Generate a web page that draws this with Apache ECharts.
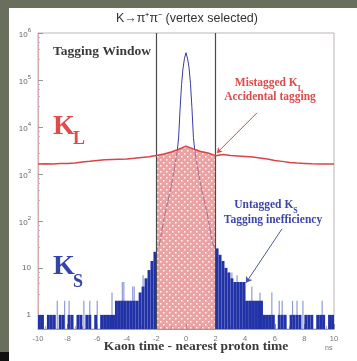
<!DOCTYPE html>
<html>
<head>
<meta charset="utf-8">
<script src="https://cdn.jsdelivr.net/npm/echarts@6/dist/echarts.min.js"></script>
<style>
    html, body { margin: 0; padding: 0; width: 357px; height: 361px; overflow: hidden; background: #68705d; }
    #chart { position: absolute; left: 9px; top: 8px; width: 348px; height: 353px; background: #fff; }
    #corner { position: absolute; left: 0; top: 352px; width: 9px; height: 9px; background: #111; }
</style>
</head>
<body>
<div id="chart"></div>
<div id="corner"></div>
<script>
// histogram bins of 0.2 ns
var BIN = 0.2;
var Y_MIN = 0.5, Y_MAX = 1e6;

// K_S counts outside the tagging window (bins from -10 to -2, and 2 to 10)
var KS_LEFT = [1, 1, 0, 1, 1, 1, 0, 1, 1, 0,
               1, 1, 0, 1, 1, 0, 1, 1, 0, 1,
               0, 1, 1, 1, 1, 1, 2, 2, 2, 2,
               2, 2, 2, 2, 3, 4, 6, 9, 14, 22];
var KS_RIGHT = [26, 19, 14, 10, 8, 6, 5, 5, 5, 5,
                2, 2, 2, 2, 2, 2, 1, 1, 1, 1,
                0, 1, 1, 1, 0, 1, 1, 1, 1, 0,
                1, 1, 1, 0, 1, 1, 1, 0, 1, 1];

// single-bin spikes (lighter blue)
var SPIKE_X = [-8.7, -8.2, -7.9, -6.9, -6.5, -6.0, -5.0, -4.3, -4.2, -3.6, -3.5, -2.9,
               3.1, 3.45, 4.0, 4.45, 5.0, 5.8, 6.3, 6.5, 7.2, 7.5, 7.9, 9.2];
var SPIKE_Y = [2, 2, 2, 2, 2, 2, 3, 5, 5, 4, 4, 7,
               8, 7, 5, 4, 3, 3, 2, 2, 2, 2, 2, 2];

// K_S peak inside the window (outline)
var PEAK_X = [-2.0, -1.8, -1.6, -1.4, -1.2, -1.0, -0.8, -0.6, -0.5, -0.4, -0.3, -0.2, -0.1, 0,
              0.1, 0.2, 0.3, 0.4, 0.5, 0.6, 0.8, 1.0, 1.2, 1.4, 1.6, 1.8, 2.0];
var PEAK_Y = [24, 31, 70, 150, 280, 540, 1200, 2900, 5800, 24000, 80000, 180000, 290000, 380000,
              290000, 190000, 85000, 26000, 6000, 3000, 1250, 560, 300, 160, 75, 33, 26];

// K_L (accidental) level
var KL_X = [-10, -9.5, -9, -8.5, -8, -7.5, -7, -6.5, -6, -5.5, -5, -4.5, -4, -3.5, -3, -2.5, -2,
            -1.5, -1, -0.5, 0, 0.5, 1, 1.5, 2, 2.5, 3, 3.5, 4, 4.5, 5, 5.5, 6, 6.5, 7, 7.5, 8, 8.5, 9, 9.5, 10];
var KL_Y = [1620, 1640, 1630, 1660, 1670, 1700, 1790, 1860, 1940, 2000, 2030, 2060, 2090, 2150, 2240, 2330, 2470,
            2650, 2930, 3350, 3900, 3400, 3000, 2780, 2450, 2600, 2470, 2420, 2350, 2280, 2190, 2080, 1940, 1850, 1760, 1700, 1670, 1640, 1630, 1620, 1630];

var WINDOW = [-2, 2];
var RED_ARROW = [[4.8, 20000], [2.09, 2800]];
var BLUE_ARROW = [[6.49, 68], [4.05, 4.8]];

function binData(start, counts) {
    var out = [];
    for (var i = 0; i < counts.length; i++) {
        if (counts[i] > 0) out.push([start + (i + 0.5) * BIN, counts[i]]);
    }
    return out;
}
var ksData = binData(-10, KS_LEFT).concat(binData(2, KS_RIGHT));
var spikeData = SPIKE_X.map(function (x, i) { return [x, SPIKE_Y[i]]; });
var peakData = PEAK_X.map(function (x, i) { return [x, PEAK_Y[i]]; });
var klData = KL_X.map(function (x, i) { return [x, KL_Y[i]]; });
var klWindow = klData.filter(function (d) { return d[0] >= WINDOW[0] && d[0] <= WINDOW[1]; });

function histItem(frac, color) {
    return function (params, api) {
        var x = api.value(0), v = api.value(1);
        var half = BIN * frac / 2;
        var tl = api.coord([x - half, v]);
        var br = api.coord([x + half, Y_MIN]);
        return {
            type: 'rect',
            shape: { x: tl[0], y: tl[1], width: br[0] - tl[0], height: br[1] - tl[1] },
            style: { fill: color }
        };
    };
}

// dotted pink pattern for the window
var pat = document.createElement('canvas');
pat.width = 6; pat.height = 6;
var pc = pat.getContext('2d');
pc.fillStyle = 'rgba(226,128,126,0.72)';
pc.fillRect(0, 0, 6, 6);
pc.fillStyle = '#fff';
pc.fillRect(1, 1, 1.5, 1.5);
pc.fillRect(4, 4, 1.5, 1.5);

var chart = echarts.init(document.getElementById('chart'));
var serif = 'Liberation Serif';

var option = {
    animation: false,
    grid: { left: 29, right: 23, top: 25, bottom: 32, show: true, borderColor: '#bdb3b6', borderWidth: 1 },
    xAxis: {
        type: 'value', min: -10, max: 10, interval: 2,
        axisLine: { onZero: false, lineStyle: { color: '#9a9aa8' } },
        axisTick: { inside: true, length: 5, lineStyle: { color: '#888' } },
        minorTick: { show: true, splitNumber: 4, length: 3, lineStyle: { color: '#aaa' } },
        splitLine: { show: false },
        axisLabel: { fontSize: 7.5, color: '#777', margin: 6 }
    },
    yAxis: {
        type: 'log', logBase: 10, min: Y_MIN, max: Y_MAX,
        axisLine: { onZero: false, lineStyle: { color: '#dba9b2' } },
        axisTick: { inside: true, length: 5, lineStyle: { color: '#999' } },
        minorTick: { show: true, splitNumber: 5, length: 2, lineStyle: { color: '#bbb' } },
        splitLine: { show: false },
        axisLabel: {
            showMinLabel: false, margin: 7, fontSize: 8, color: '#666',
            formatter: function (v) {
                if (v < 0.9) return '';
                var e = Math.round(Math.log10(v));
                if (e === 0) return '1';
                if (e === 1) return '10';
                return '{b|10}{e|' + e + '}';
            },
            rich: {
                b: { fontSize: 8, color: '#666', padding: [4, 0, 0, 0], verticalAlign: 'bottom' },
                e: { fontSize: 6, color: '#666', verticalAlign: 'top' }
            }
        }
    },
    series: [
        {
            name: 'spikes', type: 'custom', z: 1,
            renderItem: histItem(0.4, '#8e9bd8'),
            encode: { x: 0, y: 1 },
            data: spikeData
        },
        {
            name: 'K_S', type: 'custom', z: 2,
            renderItem: histItem(1, '#2233a8'),
            encode: { x: 0, y: 1 },
            data: ksData
        },
        {
            name: 'K_S peak', type: 'line', z: 3,
            showSymbol: false, silent: true,
            lineStyle: { color: '#3a3aa6', width: 1 },
            data: peakData,
            markLine: {
                silent: true, symbol: ['none', 'arrow'], symbolSize: 6,
                label: { show: false },
                lineStyle: { color: '#4a58b0', width: 1, type: 'solid' },
                data: [[{ coord: BLUE_ARROW[0] }, { coord: BLUE_ARROW[1] }]]
            }
        },
        {
            name: 'window', type: 'line', z: 4,
            showSymbol: false, silent: true,
            lineStyle: { width: 0 },
            areaStyle: { origin: 'start', color: { image: pat, repeat: 'repeat' }, opacity: 1 },
            data: klWindow,
            markLine: {
                silent: true, symbol: ['none', 'none'],
                label: { show: false },
                lineStyle: { color: '#4a4a4a', width: 1.2, type: 'solid' },
                data: [{ xAxis: WINDOW[0] }, { xAxis: WINDOW[1] }]
            }
        },
        {
            name: 'K_L', type: 'line', z: 5,
            showSymbol: false, silent: true,
            lineStyle: { color: '#d94545', width: 1.5 },
            data: klData,
            markLine: {
                silent: true, symbol: ['none', 'arrow'], symbolSize: 5,
                label: { show: false },
                lineStyle: { color: '#d94545', width: 1, type: 'solid' },
                data: [[{ coord: RED_ARROW[0] }, { coord: RED_ARROW[1] }]]
            }
        }
    ],
    graphic: [
        { type: 'text', x: 178, y: 11, style: { text: 'K\u2192\u03c0\u207a\u03c0\u207b (vertex selected)', fontSize: 12.5, fontFamily: 'Liberation Sans', fill: '#333', align: 'center', verticalAlign: 'middle' } },
        { type: 'text', x: 44, y: 44, style: { text: 'Tagging Window', fontSize: 13.5, fontWeight: 'bold', fontFamily: serif, fill: '#3a3a3a', align: 'left', verticalAlign: 'middle' } },
        { type: 'text', x: 44, y: 119, style: { text: 'K', fontSize: 28, fontWeight: 'bold', fontFamily: serif, fill: '#e04a4a', align: 'left', verticalAlign: 'middle' } },
        { type: 'text', x: 64, y: 131, style: { text: 'L', fontSize: 18, fontWeight: 'bold', fontFamily: serif, fill: '#e04a4a', align: 'left', verticalAlign: 'middle' } },
        { type: 'text', x: 44, y: 259, style: { text: 'K', fontSize: 28, fontWeight: 'bold', fontFamily: serif, fill: '#3444a8', align: 'left', verticalAlign: 'middle' } },
        { type: 'text', x: 64, y: 274, style: { text: 'S', fontSize: 18, fontWeight: 'bold', fontFamily: serif, fill: '#3444a8', align: 'left', verticalAlign: 'middle' } },
        { type: 'text', x: 260, y: 77, style: {
            text: '{m|Mistagged K}{s|L}', align: 'center', verticalAlign: 'middle',
            rich: {
                m: { fontSize: 11.5, fontWeight: 'bold', fontFamily: serif, fill: '#e04a4a', verticalAlign: 'top', padding: [0, 0, 3, 0] },
                s: { fontSize: 8, fontWeight: 'bold', fontFamily: serif, fill: '#e04a4a', verticalAlign: 'bottom' }
            } } },
        { type: 'text', x: 261, y: 89, style: { text: 'Accidental tagging', fontSize: 11.5, fontWeight: 'bold', fontFamily: serif, fill: '#e04a4a', align: 'center', verticalAlign: 'middle' } },
        { type: 'text', x: 257, y: 199, style: {
            text: '{m|Untagged K}{s|S}', align: 'center', verticalAlign: 'middle',
            rich: {
                m: { fontSize: 11.5, fontWeight: 'bold', fontFamily: serif, fill: '#3a48a8', verticalAlign: 'top', padding: [0, 0, 3, 0] },
                s: { fontSize: 8, fontWeight: 'bold', fontFamily: serif, fill: '#3a48a8', verticalAlign: 'bottom' }
            } } },
        { type: 'text', x: 264, y: 212, style: { text: 'Tagging inefficiency', fontSize: 11.5, fontWeight: 'bold', fontFamily: serif, fill: '#3a48a8', align: 'center', verticalAlign: 'middle' } },
        { type: 'text', x: 187, y: 339, style: { text: 'Kaon time - nearest proton time', fontSize: 13.5, fontWeight: 'bold', fontFamily: serif, fill: '#3a3a3a', align: 'center', verticalAlign: 'middle' } },
        { type: 'text', x: 316, y: 340, style: { text: 'ns', fontSize: 7, fontFamily: 'Liberation Sans', fill: '#777', align: 'left', verticalAlign: 'middle' } }
    ]
};
chart.setOption(option);
</script>
</body>
</html>
